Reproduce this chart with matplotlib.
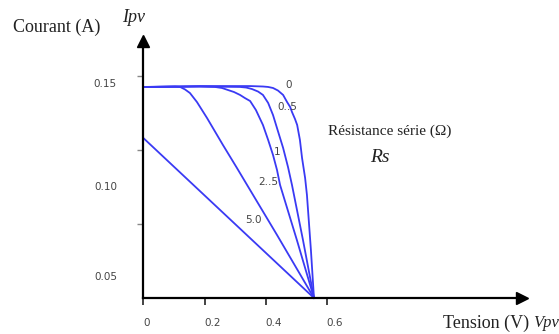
import matplotlib
matplotlib.use('Agg')
import matplotlib.pyplot as plt

# I-V curves of a PV cell for several series resistances
v_rs0 = [0, 0.185, 0.349, 0.391, 0.408, 0.424, 0.440, 0.457, 0.470, 0.480, 0.486, 0.496,
         0.503, 0.512, 0.519, 0.529, 0.535, 0.548, 0.558]
i_rs0 = [0.1425, 0.1432, 0.1432, 0.1429, 0.1426, 0.1419, 0.1402, 0.1372, 0.1324, 0.1291, 0.1257, 0.1209,
         0.1169, 0.1068, 0.0946, 0.0811, 0.0696, 0.0324, 0.0]

v_rs05 = [0, 0.185, 0.316, 0.336, 0.355, 0.375, 0.391, 0.408, 0.424, 0.440, 0.457, 0.473, 0.486, 0.522, 0.558]
i_rs05 = [0.1426, 0.1429, 0.1426, 0.1422, 0.1412, 0.1395, 0.1372, 0.1318, 0.1236, 0.1128, 0.1014, 0.0885,
          0.0764, 0.0392, 0.0]

v_rs1 = [0, 0.185, 0.234, 0.257, 0.277, 0.296, 0.316, 0.332, 0.349, 0.368, 0.391, 0.408, 0.424, 0.437,
         0.447, 0.502, 0.558]
i_rs1 = [0.1426, 0.1429, 0.1426, 0.1419, 0.1405, 0.1392, 0.1372, 0.1351, 0.1331, 0.1270, 0.1169, 0.1068,
         0.0966, 0.0865, 0.0764, 0.0392, 0.0]

v_rs25 = [0, 0.103, 0.120, 0.136, 0.152, 0.175, 0.208, 0.260, 0.306, 0.339, 0.437, 0.558]
i_rs25 = [0.1426, 0.1429, 0.1426, 0.1409, 0.1385, 0.1324, 0.1216, 0.1034, 0.0878, 0.0764, 0.0426, 0.0]

v_rs5 = [0, 0.558]
i_rs5 = [0.108, 0.0]

x_ticks = [0, 0.2, 0.4, 0.6]
x_tick_labels = ['0', '0.2', '0.4', '0.6']
y_ticks = [0.05, 0.10, 0.15]
y_tick_labels = ['0.05', '0.10', '0.15']
curve_labels = ['0', '0..5', '1', '2..5', '5.0']

W, H = 559, 334
fig = plt.figure(figsize=(W / 100, H / 100), dpi=100)
ax = fig.add_axes([0, 0, 1, 1])
ax.set_xlim(-143.5 / 305.5, (W - 143.5) / 305.5)
ax.set_ylim((298 - H) / 1480, 298 / 1480)
ax.patch.set_alpha(0)


def at(x, y):
    # position in figure pixels (from top-left)
    return dict(x=x / W, y=1 - y / H, transform=fig.transFigure)


blue = '#3a3af4'
for v, i in [(v_rs0, i_rs0), (v_rs05, i_rs05), (v_rs1, i_rs1), (v_rs25, i_rs25), (v_rs5, i_rs5)]:
    ax.plot(v, i, color=blue, lw=1.3, solid_joinstyle='round')

# axes as arrows
x_end, y_end = 1.239, 0.1735
for s in ['top', 'right']:
    ax.spines[s].set_visible(False)
ax.spines['left'].set_position(('data', 0))
ax.spines['bottom'].set_position(('data', 0))
ax.spines['left'].set_bounds(0, y_end)
ax.spines['bottom'].set_bounds(0, x_end)
ax.spines['left'].set_linewidth(1.6)
ax.spines['bottom'].set_linewidth(1.6)
ax.plot([0], [y_end], marker='^', color='black', ms=8, clip_on=False)
ax.plot([x_end], [0], marker='>', color='black', ms=8, clip_on=False)

ax.set_xticks(x_ticks, labels=x_tick_labels)
ax.tick_params(axis='x', direction='out', length=5, width=1.2, pad=9.5,
               labelsize=7.5, labelcolor='#444444', color='#222222')
for lbl in ax.get_xticklabels():
    lbl.set_horizontalalignment('left')
ax.set_yticks(y_ticks, labels=['', '', ''])
ax.tick_params(axis='y', direction='out', length=4, width=1, color='#888888')

# y tick labels sit away from their ticks in the original
for lab, ypx in zip(y_tick_labels, [277, 187, 84]):
    fig.text(s=lab, ha='right', va='center', fontsize=7.5, color='#444444', **at(117, ypx))

serif = 'Liberation Serif'
fig.text(s='Courant (A)', ha='left', va='center', fontsize=13, family=serif, color='#222222', **at(13, 27))
fig.text(s='Ipv', ha='left', va='center', fontsize=13, family=serif, style='italic', color='#222222', **at(122, 17))
fig.text(s='Tension (V)', ha='left', va='center', fontsize=13, family=serif, color='#222222', **at(443, 323))
fig.text(s='Vpv', ha='left', va='center', fontsize=12, family=serif, style='italic', color='#222222', **at(533, 323))
fig.text(s='Résistance série (Ω)', ha='left', va='center', fontsize=11, family=serif, color='#222222', **at(328, 131))
fig.text(s='Rs', ha='left', va='center', fontsize=14, family=serif, style='italic', color='#222222', **at(370, 157))

for lab, (xp, yp) in zip(curve_labels, [(289, 85), (287, 107), (277, 152), (268, 182), (253, 220)]):
    fig.text(s=lab, ha='center', va='center', fontsize=7.5, color='#444444', **at(xp, yp))

fig.savefig('out.png', dpi=100, facecolor='white')
